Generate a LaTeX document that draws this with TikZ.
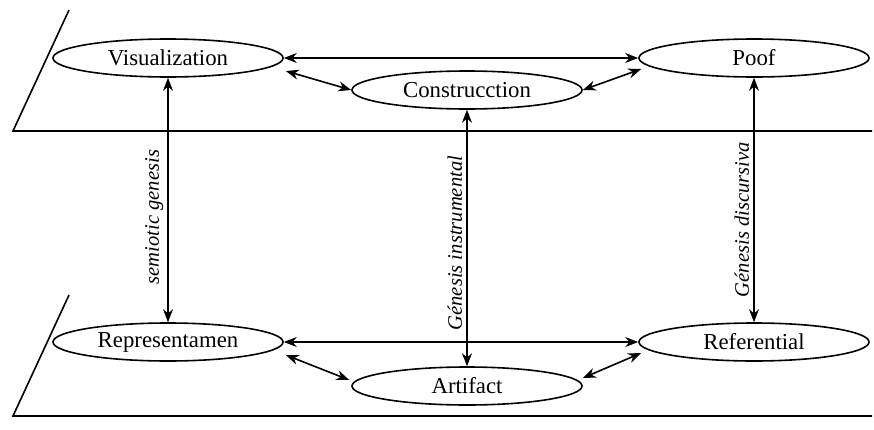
\documentclass[tikz,border=0pt]{standalone}
\usepackage{fontspec}
\setmainfont{Liberation Serif}
\usetikzlibrary{shapes.geometric,arrows.meta}

\tikzset{
    elli/.style={draw, ellipse, minimum width=115pt, minimum height=19pt, inner sep=0pt, font=\fontsize{11.4}{13}\selectfont},
    lab/.style={font=\fontsize{10.3}{12}\selectfont\itshape, sloped, above, inner sep=2pt},
    dbl/.style={{Stealth[length=6.5pt,width=5pt]}-{Stealth[length=6.5pt,width=5pt]}}
}

\begin{document}
\begin{tikzpicture}[x=0.5pt, y=-0.5pt, line width=0.8pt]
            \useasboundingbox (0,0) rectangle (874,429);

            % planes
            \draw (69,10) -- (13,131) -- (872,131);
            \draw (69,295) -- (13,416) -- (872,416);

            \node[elli] (V) at (168,58) {Visualization};
            \node[elli] (C) at (467,90) {Construcction};
            \node[elli] (P) at (754,58) {Poof};
            \node[elli] (R) at (168,342) {Representamen};
            \node[elli] (A) at (467,386) {Artifact};
            \node[elli] (F) at (754,342) {Referential};

            \draw[dbl] (V.east) -- (P.west);
            \draw[dbl] ([shift={(2,13)}]V.east) -- (C.west);
            \draw[dbl] (C.east) -- ([shift={(3,11)}]P.west);
            \draw[dbl] (R.east) -- (F.west);
            \draw[dbl] ([shift={(2,13)}]R.east) -- ([shift={(-2,-6)}]A.west);
            \draw[dbl] ([shift={(0,-8)}]A.east) -- ([shift={(3,11)}]F.west);

            \draw[dbl] (R.north) -- node[lab, pos=0.43] {semiotic genesis} (V.south);
            \draw[dbl] (A.north) -- node[lab, pos=0.48] {Génesis instrumental} (C.south);
            \draw[dbl] (F.north) -- node[lab, pos=0.42] {Génesis discursiva} (P.south);

        \end{tikzpicture}
\end{document}
